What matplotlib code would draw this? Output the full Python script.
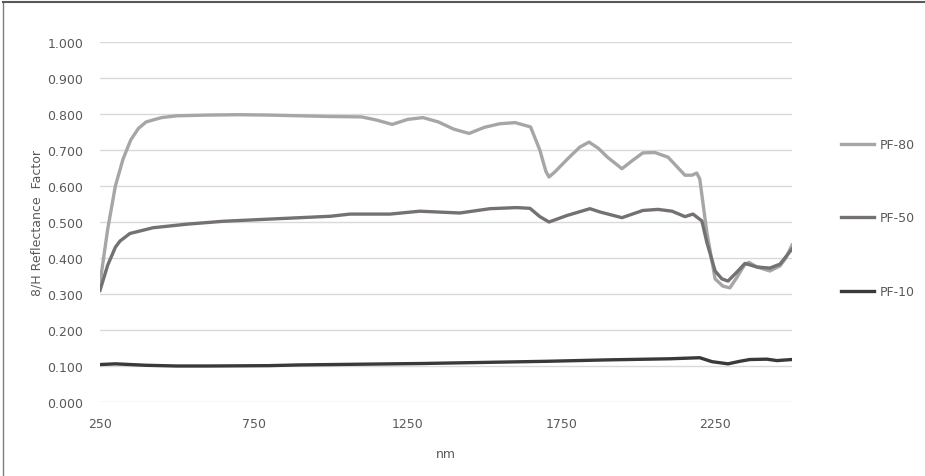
import matplotlib
matplotlib.use("Agg")
import matplotlib.pyplot as plt
from matplotlib.lines import Line2D
from matplotlib.ticker import FixedLocator, FormatStrFormatter

# wavelengths (nm) and reflectance for each sample
nm_80 = [250, 275, 300, 325, 350, 375, 400, 450, 500, 600, 700, 800, 900, 1000,
         1100, 1150, 1200, 1250, 1300, 1350, 1400, 1450, 1500, 1550, 1600, 1650,
         1680, 1700, 1710, 1730, 1770, 1810, 1840, 1870, 1900, 1947, 1980, 2015,
         2054, 2097, 2152, 2175, 2190, 2200, 2223, 2250, 2275, 2298, 2320, 2345,
         2360, 2386, 2428, 2461, 2480, 2500]
pf80 = [0.330, 0.480, 0.600, 0.675, 0.728, 0.760, 0.778, 0.790, 0.795, 0.797,
        0.798, 0.797, 0.795, 0.793, 0.792, 0.783, 0.771, 0.785, 0.790, 0.778,
        0.758, 0.746, 0.763, 0.773, 0.776, 0.764, 0.700, 0.640, 0.625, 0.640,
        0.675, 0.708, 0.722, 0.705, 0.680, 0.648, 0.670, 0.692, 0.693, 0.680,
        0.630, 0.630, 0.636, 0.620, 0.472, 0.342, 0.322, 0.317, 0.345, 0.380,
        0.388, 0.375, 0.364, 0.378, 0.400, 0.436]

nm_50 = [250, 275, 300, 315, 347, 422, 533, 650, 800, 1000, 1063, 1193, 1290,
         1420, 1518, 1605, 1648, 1680, 1710, 1768, 1843, 1875, 1947, 2015, 2064,
         2110, 2152, 2178, 2207, 2223, 2250, 2272, 2292, 2321, 2347, 2386, 2428,
         2461, 2500]
pf50 = [0.310, 0.380, 0.430, 0.447, 0.468, 0.484, 0.494, 0.502, 0.508, 0.516,
        0.522, 0.522, 0.530, 0.525, 0.537, 0.540, 0.538, 0.515, 0.500, 0.518,
        0.537, 0.528, 0.512, 0.532, 0.535, 0.530, 0.515, 0.522, 0.503, 0.444,
        0.364, 0.342, 0.336, 0.361, 0.385, 0.375, 0.372, 0.383, 0.425]

nm_10 = [250, 300, 400, 500, 600, 800, 900, 1100, 1300, 1500, 1700, 1900, 2100,
         2200, 2240, 2292, 2330, 2363, 2418, 2451, 2500]
pf10 = [0.104, 0.106, 0.102, 0.100, 0.100, 0.101, 0.103, 0.105, 0.107, 0.110,
        0.113, 0.117, 0.120, 0.123, 0.112, 0.106, 0.113, 0.118, 0.119, 0.115,
        0.118]

x_ticks = [250, 750, 1250, 1750, 2250]
y_ticks = [0.0, 0.1, 0.2, 0.3, 0.4, 0.5, 0.6, 0.7, 0.8, 0.9, 1.0]

text_col = "#595959"

fig = plt.figure(figsize=(9.25, 4.77), dpi=100)
ax = fig.add_axes([100 / 925, 1 - 403 / 477, 692 / 925, 360 / 477])

ax.plot(nm_80, pf80, color="#a6a6a6", linewidth=2.4, label="PF-80",
        solid_joinstyle="round")
ax.plot(nm_50, pf50, color="#767171", linewidth=2.4, label="PF-50",
        solid_joinstyle="round")
ax.plot(nm_10, pf10, color="#3b3838", linewidth=2.4, label="PF-10",
        solid_joinstyle="round")

ax.set_xlim(250, 2500)
ax.set_ylim(0, 1.0)
ax.xaxis.set_major_locator(FixedLocator(x_ticks))
ax.yaxis.set_major_locator(FixedLocator(y_ticks))
ax.yaxis.set_major_formatter(FormatStrFormatter("%.3f"))
for s in ax.spines.values():
    s.set_visible(False)
ax.grid(axis="y", color="#d9d9d9", linewidth=1.0)
ax.set_axisbelow(True)
ax.tick_params(length=0, labelsize=9, colors=text_col, pad=12)
ax.tick_params(axis="x", pad=11)

ax.set_xlabel("nm", fontsize=9, color=text_col, labelpad=12)
ax.set_ylabel("8/H Reflectance  Factor", fontsize=9, color=text_col, labelpad=3)

fig.legend(loc="center left", bbox_to_anchor=(830 / 925, 1 - 219 / 477),
           frameon=False, fontsize=9, labelcolor=text_col, labelspacing=4.85,
           handlelength=2.6, handletextpad=0.5)

# outer chart border (top and left edges visible)
fig.add_artist(Line2D([3 / 925, 3 / 925], [0, 1 - 3 / 477], color="#7f7f7f",
                      linewidth=1.0, transform=fig.transFigure))
fig.add_artist(Line2D([3 / 925, 1], [1 - 3 / 477, 1 - 3 / 477], color="#595959",
                      linewidth=1.5, transform=fig.transFigure))

fig.savefig("out.png", dpi=100)
